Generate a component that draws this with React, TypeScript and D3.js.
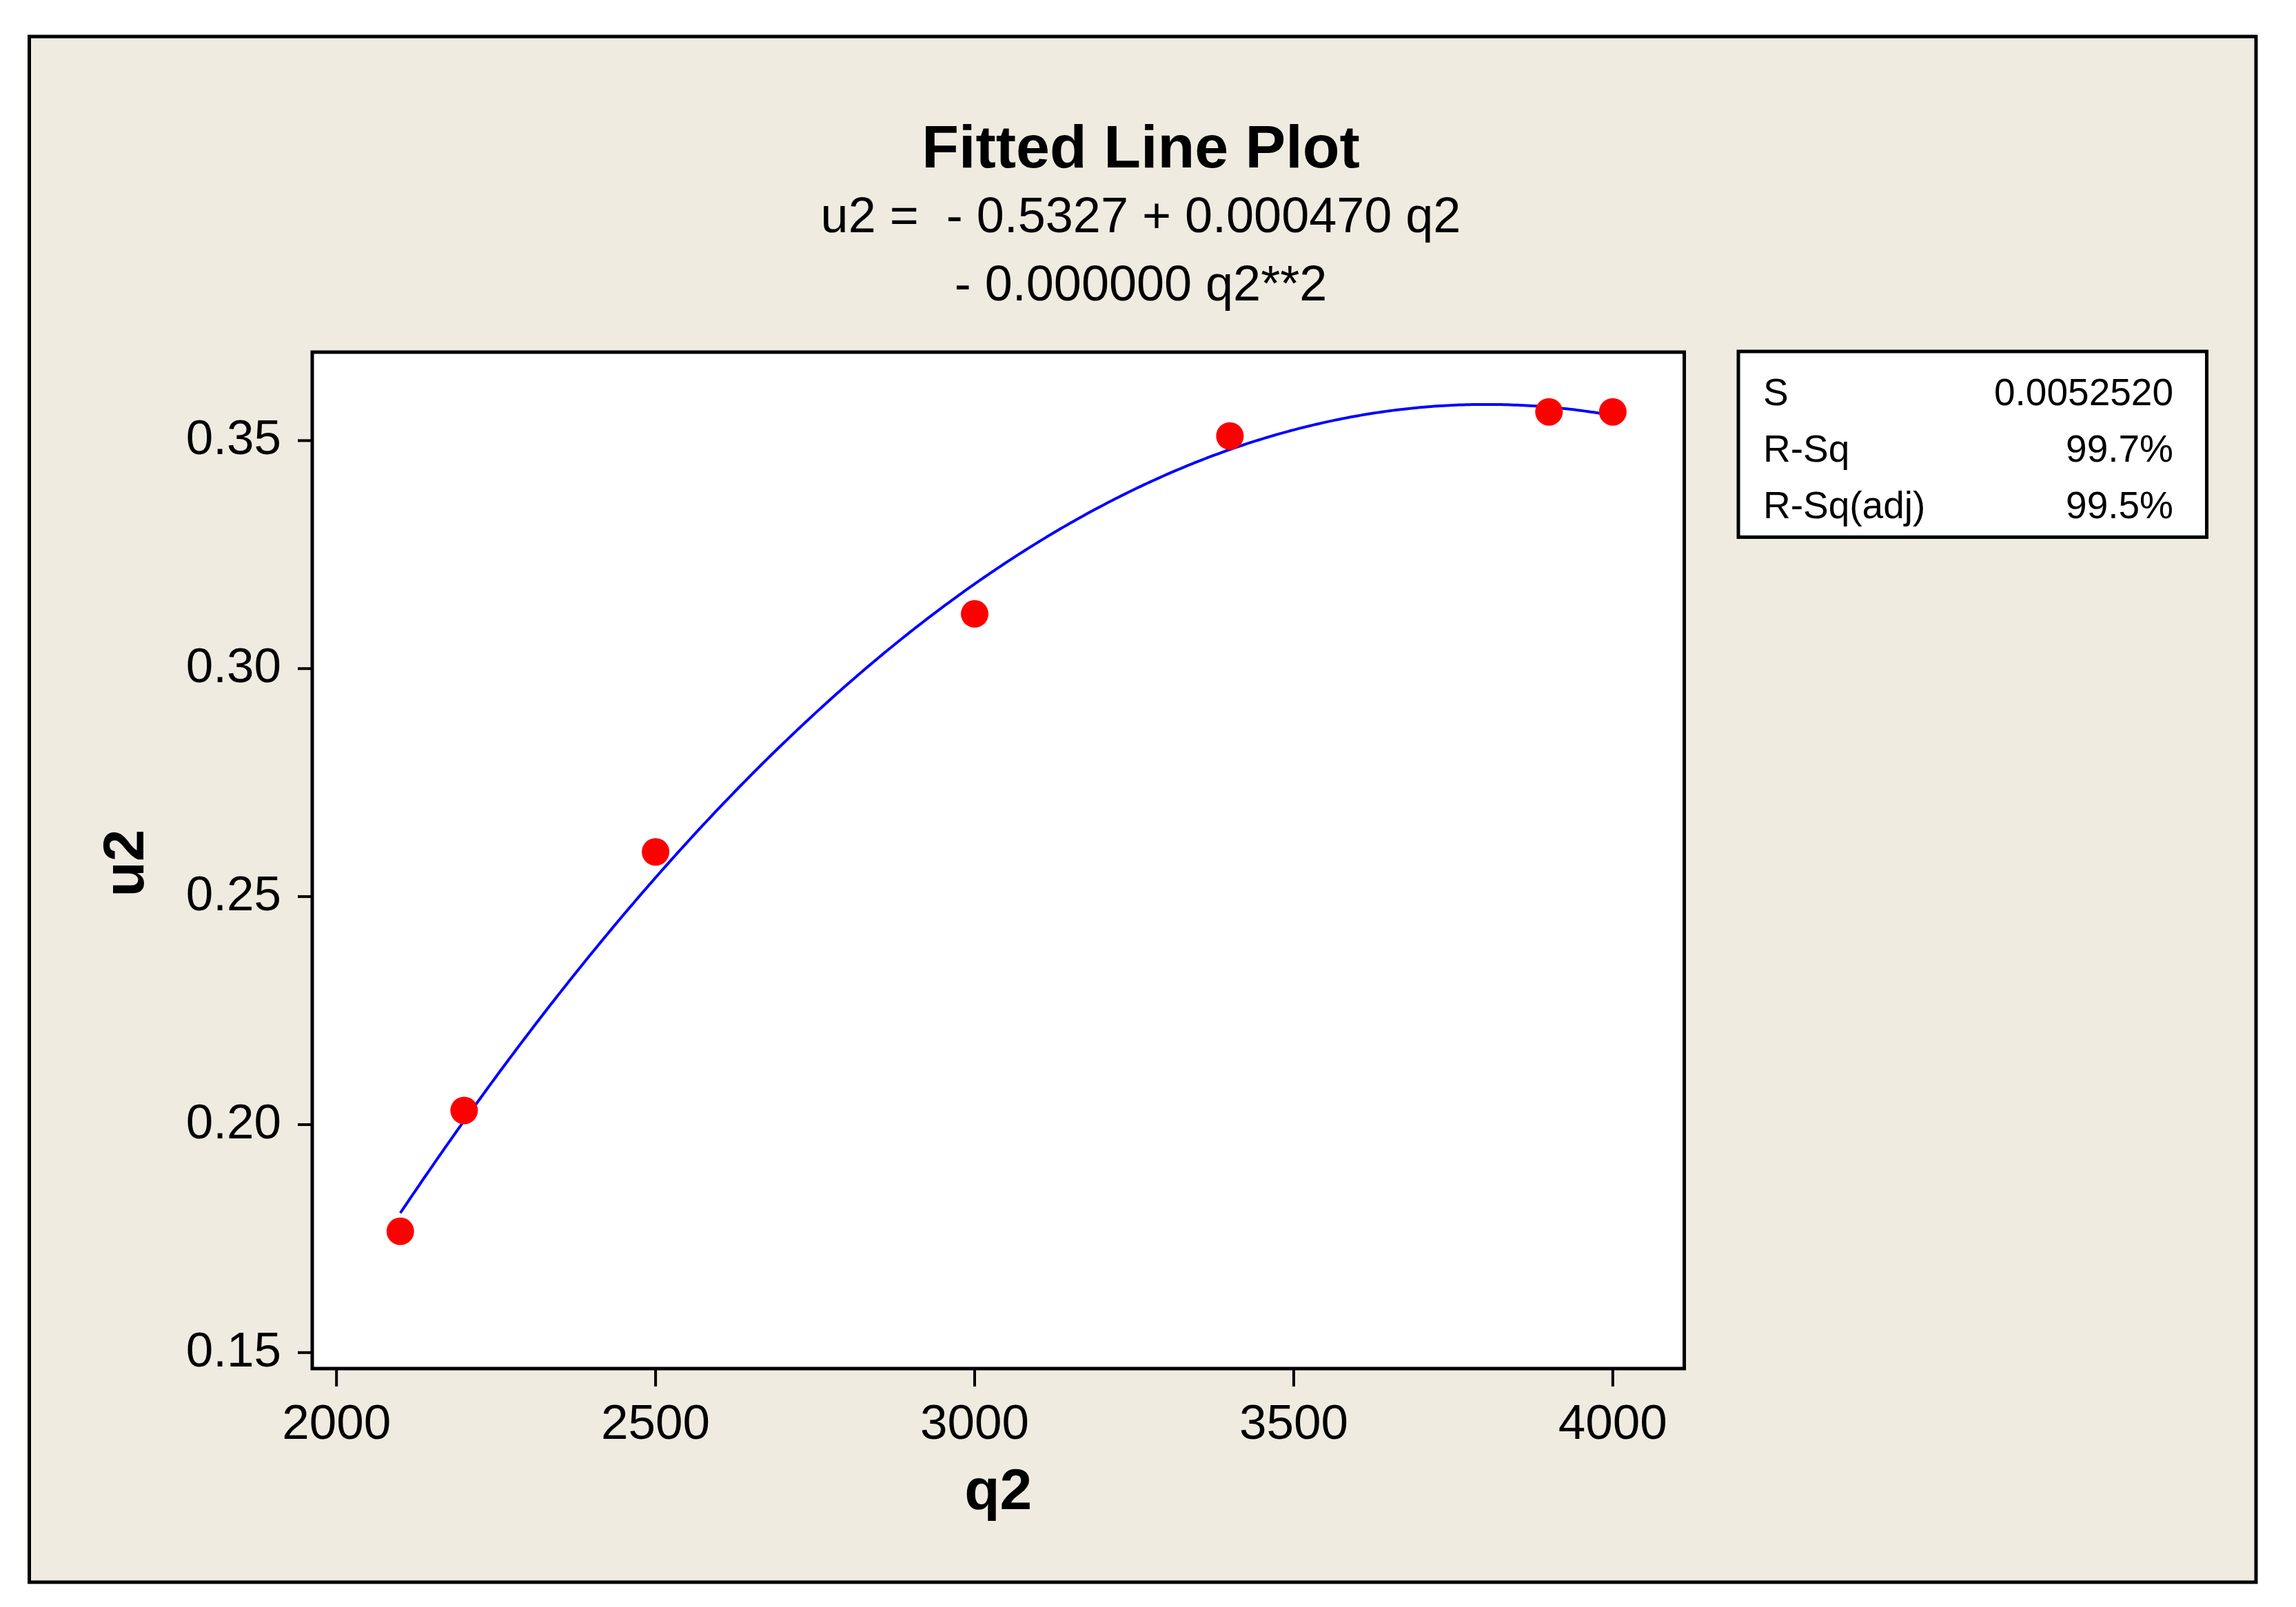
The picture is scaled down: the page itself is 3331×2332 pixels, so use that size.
import React from "react";
import * as d3 from "d3";

// ---- data ----
const q2Values = [2100, 2200, 2500, 3000, 3400, 3900, 4000];
const u2Values = [0.1766, 0.2031, 0.2598, 0.312, 0.351, 0.3563, 0.3563];
const xTicks = [2000, 2500, 3000, 3500, 4000];
const yTicks = [0.15, 0.2, 0.25, 0.3, 0.35];
const titleText = "Fitted Line Plot";
const eqLine1 = "u2 =  - 0.5327 + 0.000470 q2";
const eqLine2 = "- 0.000000 q2**2";
const statLabels = ["S", "R-Sq", "R-Sq(adj)"];
const statValues = ["0.0052520", "99.7%", "99.5%"];
const xLabel = "q2";
const yLabel = "u2";

// quadratic least squares fit of the data
function quadFit(xs: number[], ys: number[]) {
  const n = xs.length;
  const mx = d3.mean(xs) as number;
  const s = 1000;
  const t = xs.map((x) => (x - mx) / s);
  let S = [0, 0, 0, 0, 0];
  let T = [0, 0, 0];
  for (let i = 0; i < n; i++) {
    for (let k = 0; k < 5; k++) S[k] += Math.pow(t[i], k);
    for (let k = 0; k < 3; k++) T[k] += ys[i] * Math.pow(t[i], k);
  }
  const A = [
    [S[0], S[1], S[2], T[0]],
    [S[1], S[2], S[3], T[1]],
    [S[2], S[3], S[4], T[2]],
  ];
  for (let c = 0; c < 3; c++) {
    let p = c;
    for (let r = c + 1; r < 3; r++) if (Math.abs(A[r][c]) > Math.abs(A[p][c])) p = r;
    [A[c], A[p]] = [A[p], A[c]];
    for (let r = 0; r < 3; r++) {
      if (r === c) continue;
      const f = A[r][c] / A[c][c];
      for (let k = c; k < 4; k++) A[r][k] -= f * A[c][k];
    }
  }
  const coef = [A[0][3] / A[0][0], A[1][3] / A[1][1], A[2][3] / A[2][2]];
  return (x: number) => {
    const u = (x - mx) / s;
    return coef[0] + coef[1] * u + coef[2] * u * u;
  };
}

const W = 3331;
const H = 2332;
const PL = 453, PR = 2443.5, PT = 511, PB = 1986;
const FONT = "'Liberation Sans', Arial, sans-serif";

export default function App() {
  const x = d3.scaleLinear().domain([1962, 4112]).range([PL, PR]);
  const y = d3.scaleLinear().domain([0.1465, 0.3694]).range([PB, PT]);
  const fit = quadFit(q2Values, u2Values);
  const [x0, x1] = d3.extent(q2Values) as [number, number];
  const curvePts = d3.range(x0, x1 + 0.001, 5).map((q) => [q, fit(q)] as [number, number]);
  const line = d3
    .line<[number, number]>()
    .x((d) => x(d[0]))
    .y((d) => y(d[1]));
  const cx = (PL + PR) / 2;

  return (
    <svg
      width={W}
      height={H}
      viewBox={`0 0 ${W} ${H}`}
      style={{ position: "absolute", left: 0, top: 0, background: "#ffffff" }}
      fontFamily={FONT}
    >
      <rect x={42.5} y={53} width={3273 - 42.5} height={2296 - 53} fill="#EFEBE1" stroke="#000" strokeWidth={5} />

      {/* titles */}
      <text x={1655} y={243} textAnchor="middle" fontSize={88} fontWeight="bold" fill="#000">
        {titleText}
      </text>
      <text x={1655} y={337} textAnchor="middle" fontSize={72} fill="#000" style={{ whiteSpace: "pre" }}>
        {eqLine1}
      </text>
      <text x={1655} y={436} textAnchor="middle" fontSize={72} fill="#000" style={{ whiteSpace: "pre" }}>
        {eqLine2}
      </text>

      {/* plot area */}
      <rect x={PL} y={PT} width={PR - PL} height={PB - PT} fill="#ffffff" />
      <defs>
        <clipPath id="plotclip">
          <rect x={PL} y={PT} width={PR - PL} height={PB - PT} />
        </clipPath>
      </defs>
      <g clipPath="url(#plotclip)">
        <path d={line(curvePts) || ""} fill="none" stroke="#0000FF" strokeWidth={4} />
        {q2Values.map((q, i) => (
          <circle key={i} cx={x(q)} cy={y(u2Values[i])} r={20} fill="#FF0000" />
        ))}
      </g>
      <rect x={PL} y={PT} width={PR - PL} height={PB - PT} fill="none" stroke="#000" strokeWidth={5} />

      {/* x axis */}
      {xTicks.map((t) => (
        <g key={t}>
          <line x1={x(t)} x2={x(t)} y1={PB} y2={PB + 26} stroke="#000" strokeWidth={4} />
          <text x={x(t)} y={2088} textAnchor="middle" fontSize={71} fill="#000">
            {t}
          </text>
        </g>
      ))}
      <text x={cx} y={2190} textAnchor="middle" fontSize={84} fontWeight="bold" fill="#000">
        {xLabel}
      </text>

      {/* y axis */}
      {yTicks.map((t) => (
        <g key={t}>
          <line x1={PL - 21} x2={PL} y1={y(t)} y2={y(t)} stroke="#000" strokeWidth={4} />
          <text x={408} y={y(t) + 20} textAnchor="end" fontSize={71} fill="#000">
            {d3.format(".2f")(t)}
          </text>
        </g>
      ))}
      <text
        transform={`translate(208, ${(PT + PB) / 2 + 4}) rotate(-90)`}
        textAnchor="middle"
        fontSize={84}
        fontWeight="bold"
        fill="#000"
      >
        {yLabel}
      </text>

      {/* stats box */}
      <rect x={2522} y={510} width={3201.5 - 2522} height={779.5 - 510} fill="#ffffff" stroke="#000" strokeWidth={5} />
      {statLabels.map((s, i) => (
        <g key={s}>
          <text x={2558} y={588 + i * 82} fontSize={55} fill="#000">
            {s}
          </text>
          <text x={3153} y={588 + i * 82} textAnchor="end" fontSize={55} fill="#000">
            {statValues[i]}
          </text>
        </g>
      ))}
    </svg>
  );
}
